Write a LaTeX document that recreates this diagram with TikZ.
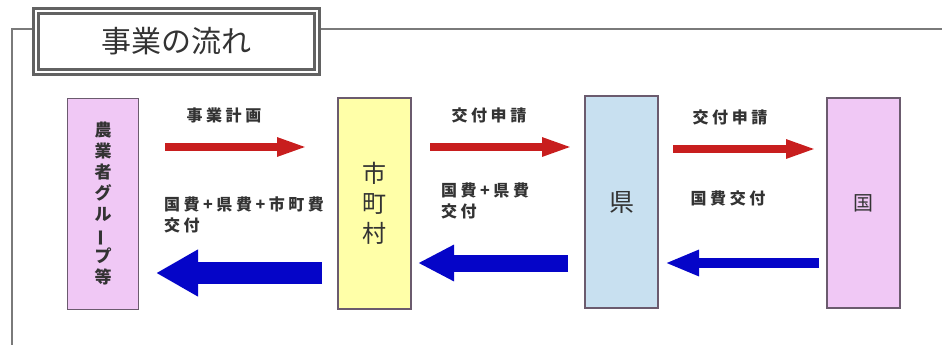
\documentclass[tikz,border=0pt]{standalone}
\usepackage{fontspec}
\setmainfont{Noto Sans CJK JP}
\newfontfamily\lblfont[LetterSpace=22]{Noto Sans CJK JP}
\usetikzlibrary{arrows.meta}
\definecolor{pinkbox}{HTML}{F0C8F5}
\definecolor{yellowbox}{HTML}{FFFFA8}
\definecolor{bluebox}{HTML}{C8E0F0}
\definecolor{boxline}{HTML}{6B5B6E}
\definecolor{redarr}{HTML}{C81E1E}
\definecolor{bluearr}{HTML}{0505C8}
\definecolor{txt}{HTML}{333333}
\definecolor{frameline}{HTML}{7A7A7A}
\begin{document}
\begin{tikzpicture}[x=1pt,y=-1pt,
  actor/.style={draw=boxline, line width=1.8pt, minimum width=71pt, inner sep=0pt, align=center, text=txt},
  lbl/.style={text=txt, font=\lblfont\bfseries\fontsize{16}{21}\selectfont, align=left, inner sep=0pt},
  redflow/.style={draw=redarr, line width=8pt, -{Triangle[length=31pt,width=17pt]}},
  blueflow/.style={draw=bluearr, -{Triangle[length=#1]}},
]
\useasboundingbox (0,0) rectangle (942,345);
% frame
\draw[frameline, line width=2pt] (942,29) -- (12,29) -- (12,345);
% title
\node[draw=frameline!80!black, line width=3.2pt, double=white, double distance=1.8pt, fill=white,
      minimum width=281pt, minimum height=61pt, inner sep=0pt, text=txt,
      font=\fontsize{30}{32}\selectfont] (title) at (176.5,41.5) {事業の流れ};
% actors
\node[actor, fill=pinkbox, minimum height=211pt, font=\bfseries\fontsize{17}{21}\selectfont] (farm) at (103,204)
  {農\\業\\者\\グ\\ル\\\rotatebox[origin=c]{90}{ー}\\プ\\等};
\node[actor, fill=yellowbox, minimum width=73pt, minimum height=211pt, font=\fontsize{24}{30}\selectfont] (city) at (374.5,203.5)
  {市\\町\\村};
\node[actor, fill=bluebox, minimum width=73pt, minimum height=212pt, font=\fontsize{25}{28}\selectfont] (pref) at (621.5,202)
  {県};
\node[actor, fill=pinkbox, minimum width=73pt, minimum height=210pt, font=\fontsize{20}{24}\selectfont] (nation) at (863.5,203)
  {国};
% flow end points
\coordinate (r1s) at (165,147); \coordinate (r1e) at (308,147);
\coordinate (r2s) at (430,147); \coordinate (r2e) at (573,147);
\coordinate (r3s) at (673,149); \coordinate (r3e) at (817,149);
\coordinate (b1s) at (322,273); \coordinate (b1e) at (156,273);
\coordinate (b2s) at (568,263); \coordinate (b2e) at (418,263);
\coordinate (b3s) at (819,263); \coordinate (b3e) at (665,263);
% red arrows
\draw[redflow] (r1s) -- (r1e);
\draw[redflow] (r2s) -- (r2e);
\draw[redflow] (r3s) -- (r3e);
% blue arrows
\draw[blueflow={42pt,width=44pt}, line width=22pt] (b1s) -- (b1e);
\draw[blueflow={36pt,width=34pt}, line width=17pt] (b2s) -- (b2e);
\draw[blueflow={34pt,width=24pt}, line width=10pt] (b3s) -- (b3e);
% labels
\node[lbl] (l1) at (224,115) {事業計画};
\node[lbl, anchor=north west] (l2) at (164,197) {国費+県費+市町費\\交付};
\node[lbl] (l3) at (489,115) {交付申請};
\node[lbl, anchor=north west] (l4) at (441,183) {国費+県費\\交付};
\node[lbl] (l5) at (730,117) {交付申請};
\node[lbl] (l6) at (728,198) {国費交付};
\end{tikzpicture}
\end{document}
